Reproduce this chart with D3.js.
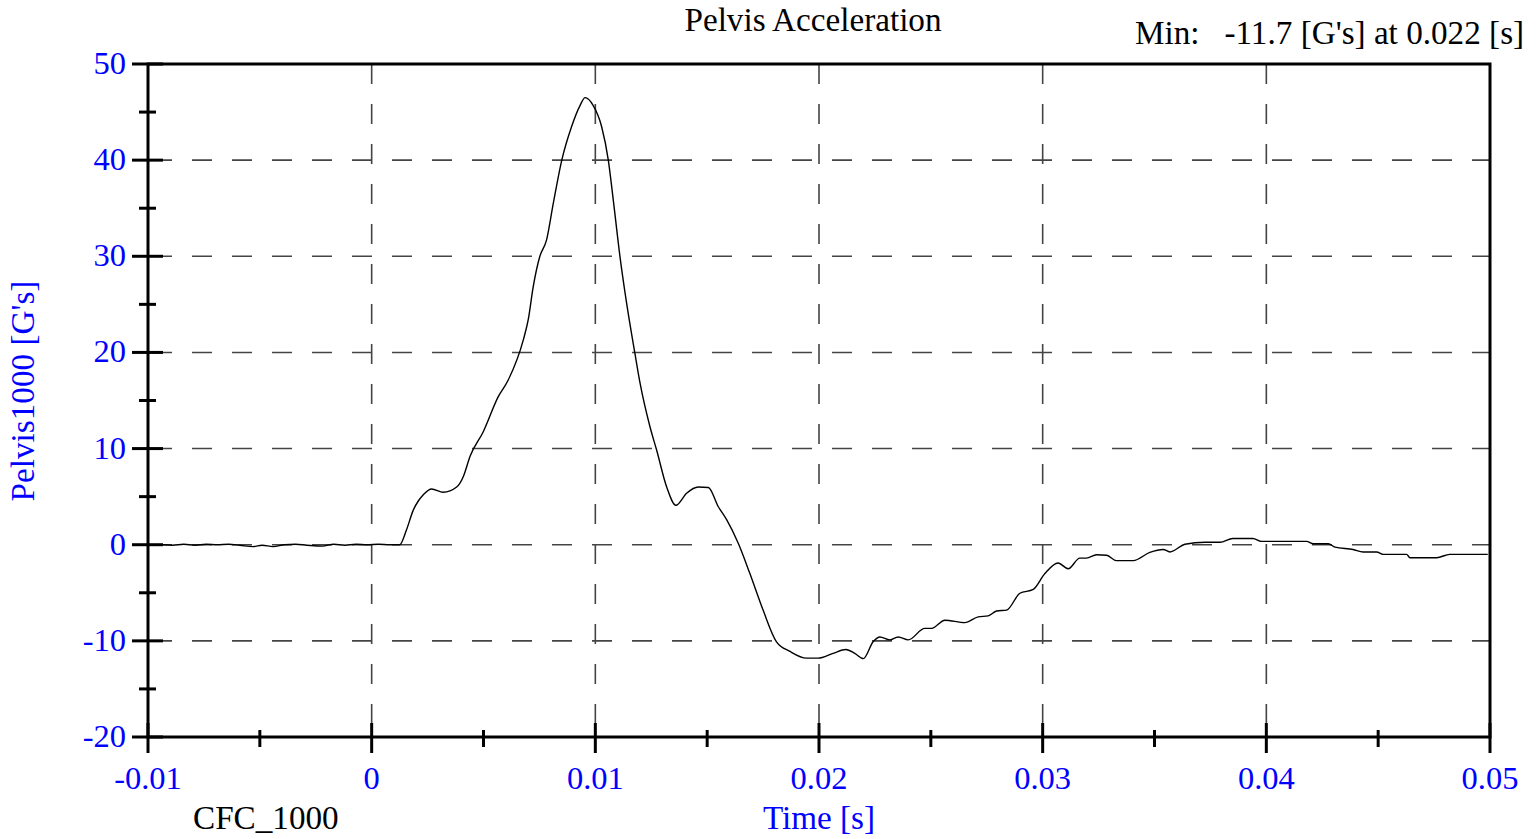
<!DOCTYPE html>
<html><head><meta charset="utf-8">
<script src="https://cdn.jsdelivr.net/npm/d3@7"></script>
<style>body{margin:0;background:#fff;} svg{display:block;} text{font-family:"Liberation Serif","Times New Roman",serif;}</style>
</head><body>
<svg id="c" width="1540" height="839"></svg>
<script>
const chartTitle = "Pelvis Acceleration";
const minLabel = "Min:   -11.7 [G's] at 0.022 [s]";
const yTitle = "Pelvis1000 [G's]";
const xTitle = "Time [s]";
const filterLabel = "CFC_1000";
const xTickValues = [-0.01, 0, 0.01, 0.02, 0.03, 0.04, 0.05];
const xTickLabels = ["-0.01", "0", "0.01", "0.02", "0.03", "0.04", "0.05"];
const yTickValues = [50, 40, 30, 20, 10, 0, -10, -20];
const yTickLabels = ["50", "40", "30", "20", "10", "0", "-10", "-20"];
// time in milliseconds
const timeMs = [-9.35,-8.9,-8.4,-7.9,-7.4,-6.9,-6.4,-5.9,-5.3,-4.9,-4.4,-3.9,-3.4,-2.9,-2.2,-1.7,-1.2,-0.7,-0.2,0.3,0.8,1.25,
1.55,1.86,2.1,2.31,2.68,3.2,3.8,4.1,4.4,4.99,5.66,6.1,6.78,7.0,7.22,7.52,7.82,8.12,8.5,8.94,9.32,9.54,9.9,10.28,10.58,10.8,11.1,11.4,11.77,12.0,12.44,12.74,13.19,13.6,14.08,14.6,15.05,15.5,15.87,16.39,16.91,17.5,18.1,18.7,19.44,19.96,20.63,21.2,21.6,21.98,22.42,22.72,23.17,23.54,23.99,24.73,25.03,25.63,26.52,27.12,27.56,27.94,28.39,28.98,29.58,30.1,30.69,31.14,31.66,31.96,32.41,32.86,33.3,34.05,34.79,35.39,35.69,36.36,37.26,37.93,38.5,39.4,39.77,41.8,42.1,42.77,43.07,43.88,44.33,44.93,45.22,46.27,46.42,47.62,48.2,49.9];
// acceleration in G's
const accelG = [0,-0.05,0.05,-0.05,0.05,0,0.05,-0.05,-0.2,-0.05,-0.2,0,0.05,-0.05,-0.15,0.05,-0.05,0.05,0,0.05,0,0,
1.5,3.6,4.6,5.2,5.8,5.45,6.0,7.1,9.2,11.75,15.4,17.1,21.3,23.4,26.8,30,31.7,35.5,40.0,43.5,45.7,46.5,45.7,43.5,40,35.9,30,25.1,19.9,16.8,12.3,9.85,6.0,4.1,5.35,6.0,5.95,3.95,2.6,0.15,-3.0,-6.8,-10.1,-11.1,-11.8,-11.8,-11.3,-10.9,-11.3,-11.85,-10.1,-9.6,-9.9,-9.6,-9.9,-8.7,-8.7,-7.85,-8.1,-7.5,-7.4,-6.9,-6.8,-5.05,-4.65,-3.0,-1.9,-2.5,-1.4,-1.4,-1.05,-1.1,-1.65,-1.65,-0.8,-0.5,-0.75,0.05,0.25,0.25,0.65,0.65,0.35,0.35,0.1,0.1,-0.25,-0.5,-0.75,-0.75,-1.0,-1.0,-1.35,-1.35,-1.0,-1.0];

const data = timeMs.map((t,i)=>({t:t/1000, v:accelG[i]}));
const L=148, R=1490, T=64, B=737;
const x = d3.scaleLinear().domain([-0.01,0.05]).range([L,R]);
const y = d3.scaleLinear().domain([-20,50]).range([B,T]);
const svg = d3.select("#c");
const FS = 32.5, FT = 33.2, blue = "#0000ff";

// grid
const gx = xTickValues.slice(1,-1), gy = yTickValues.slice(1,-1);
svg.append("g").selectAll("line").data(gx).join("line")
  .attr("x1",d=>x(d)).attr("x2",d=>x(d)).attr("y1",T).attr("y2",B)
  .attr("stroke","#444").attr("stroke-width",1.6).attr("stroke-dasharray","20,20");
svg.append("g").selectAll("line").data(gy).join("line")
  .attr("x1",L).attr("x2",R).attr("y1",d=>y(d)).attr("y2",d=>y(d))
  .attr("stroke","#444").attr("stroke-width",1.6).attr("stroke-dasharray","20,20").attr("stroke-dashoffset",-4);

// curve
svg.append("path").datum(data)
  .attr("d", d3.line().x(d=>x(d.t)).y(d=>y(d.v)).curve(d3.curveMonotoneX))
  .attr("fill","none").attr("stroke","#000").attr("stroke-width",1.4);

// frame
svg.append("rect").attr("x",L).attr("y",T).attr("width",R-L).attr("height",B-T)
  .attr("fill","none").attr("stroke","#000").attr("stroke-width",3);

// y ticks
const yMinor = d3.range(-20,51,5);
svg.append("g").selectAll("line").data(yMinor).join("line")
  .attr("x1",d=>d%10===0?L-16:L-9).attr("x2",d=>d%10===0?L+15:L+8)
  .attr("y1",d=>y(d)).attr("y2",d=>y(d)).attr("stroke","#000").attr("stroke-width",3);
svg.append("g").selectAll("text").data(yTickValues).join("text")
  .attr("x",L-22).attr("y",d=>y(d)+10).attr("text-anchor","end")
  .attr("font-size",FS).attr("fill",blue).text((d,i)=>yTickLabels[i]);

// x ticks
const xMinor = d3.range(0,13).map(i=>-0.01+i*0.005);
svg.append("g").selectAll("line").data(xMinor).join("line")
  .attr("x1",d=>x(d)).attr("x2",d=>x(d))
  .attr("y1",(d,i)=>i%2===0?B-14:B-7).attr("y2",(d,i)=>i%2===0?B+16:B+10)
  .attr("stroke","#000").attr("stroke-width",3);
svg.append("g").selectAll("text").data(xTickValues).join("text")
  .attr("x",d=>x(d)).attr("y",B+52).attr("text-anchor","middle")
  .attr("font-size",FS).attr("fill",blue).text((d,i)=>xTickLabels[i]);

// titles
svg.append("text").attr("x",813).attr("y",31).attr("text-anchor","middle").attr("font-size",FT).attr("fill","#000").text(chartTitle);
svg.append("text").attr("x",1135).attr("y",44).attr("font-size",FT).attr("fill","#000").attr("xml:space","preserve").style("white-space","pre").text(minLabel);
svg.append("text").attr("x",x(0.02)).attr("y",829).attr("text-anchor","middle").attr("font-size",FT).attr("fill",blue).text(xTitle);
svg.append("text").attr("x",193).attr("y",829).attr("font-size",FT).attr("fill","#000").text(filterLabel);
svg.append("text").attr("transform","translate(34,391) rotate(-90)").attr("text-anchor","middle").attr("font-size",FT).attr("fill",blue).text(yTitle);
</script>
</body></html>
